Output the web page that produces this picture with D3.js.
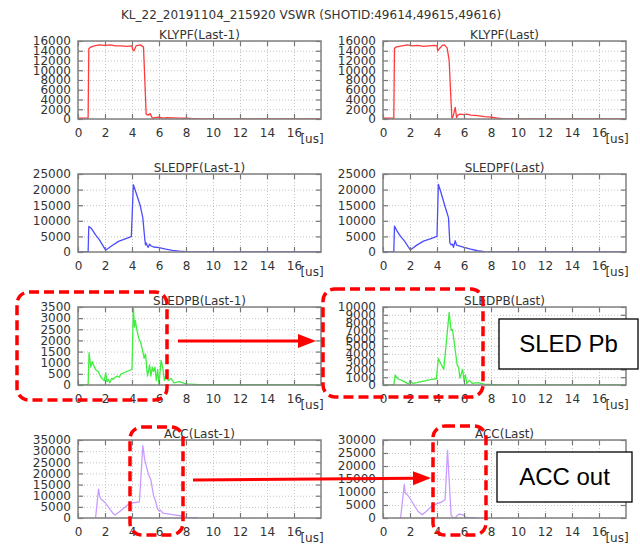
<!DOCTYPE html>
<html>
<head>
<meta charset="utf-8">
<script src="https://cdn.jsdelivr.net/npm/d3@7"></script>
<style>
  body { margin: 0; background: #fff; }
  svg { display: block; font-family: "DejaVu Sans", sans-serif; }
</style>
</head>
<body>
<div class="vis"></div>
<script>
(function() {
  'use strict';

  var chartTitle = 'KL_22_20191104_215920 VSWR (SHOTID:49614,49615,49616)';
  var xTicks = [0, 2, 4, 6, 8, 10, 12, 14, 16];
  var xMax = 18;
  var xUnit = '[us]';

  // [time in us, value]
  var klypfPrev = [[0,150],[0.75,200],[0.8,14400],[0.9,14700],[1.2,15000],[1.6,15200],[2.0,15100],[2.4,15200],
    [2.8,15000],[3.2,15000],[3.6,14900],[4.0,15000],[4.05,14200],[4.15,14000],[4.3,15000],[4.6,15200],
    [4.85,14800],[4.95,8000],[5.05,1000],[5.2,800],[5.35,1100],[5.5,200],[5.7,300],[6.0,400],[6.3,200],
    [6.6,300],[7.0,250],[7.5,200],[8.0,150],[8.5,80],[9.0,20],[12,0],[18,0]];
  var klypfLast = [[0,150],[0.8,200],[0.85,14500],[1.0,14800],[1.4,15000],[1.8,15200],[2.2,15000],[2.6,15100],
    [3.0,14900],[3.4,15000],[3.8,15100],[4.0,15000],[4.05,14000],[4.2,14500],[4.4,15100],[4.55,15200],
    [4.75,14600],[4.9,12000],[5.0,6000],[5.1,200],[5.2,600],[5.35,2400],[5.45,300],[5.55,800],[5.7,1000],
    [6.0,900],[6.2,1000],[6.5,800],[7.0,700],[7.5,500],[8.0,400],[8.5,200],[8.8,50],[9,20],[18,0]];

  var sledpfPrev = [[0,0],[0.75,0],[0.8,8200],[1.0,7500],[1.3,5500],[1.6,3800],[2.0,900],[2.1,700],[2.5,2000],
    [3.0,3400],[3.5,4200],[3.95,4900],[4.1,21600],[4.3,19000],[4.6,15000],[4.8,11000],[4.95,4000],[5.0,2300],
    [5.05,2900],[5.15,1800],[5.2,1500],[5.3,2500],[5.4,2000],[5.6,1600],[6.0,1400],[6.5,900],[7.0,500],
    [7.5,250],[8.0,100],[8.8,50],[9,0],[18,0]];
  var sledpfLast = [[0,0],[0.8,0],[0.85,8300],[1.0,7000],[1.3,5000],[1.6,3500],[2.0,800],[2.1,900],[2.5,2200],
    [3.0,3500],[3.5,4200],[4.0,5000],[4.1,21700],[4.3,19000],[4.6,14500],[4.85,11000],[4.95,3000],[5.05,2300],
    [5.15,2500],[5.22,1500],[5.35,3600],[5.45,2200],[5.7,1900],[6.0,1500],[6.5,900],[7.0,400],[7.5,100],
    [8.0,50],[8.8,50],[9,0],[18,0]];

  var sledpbPrev = [[0,0],[0.75,0],[0.82,1450],[0.95,800],[1.05,1050],[1.15,900],[1.3,700],[1.5,600],[1.7,350],
    [1.85,250],[1.95,200],[2.05,550],[2.15,150],[2.25,250],[2.35,100],[2.5,300],[2.6,250],[2.75,350],[2.9,400],
    [3.05,350],[3.2,500],[3.4,550],[3.6,600],[3.8,650],[4.0,700],[4.1,3500],[4.18,2600],[4.25,2900],[4.35,2500],
    [4.5,2100],[4.65,1900],[4.8,1500],[4.9,1200],[5.0,1400],[5.1,700],[5.15,400],[5.3,900],[5.4,400],[5.5,800],
    [5.6,600],[5.7,800],[5.8,200],[5.9,700],[6.0,0],[6.15,1100],[6.3,700],[6.4,200],[6.5,400],[6.7,200],
    [6.9,300],[7.1,100],[7.5,150],[8.0,50],[9.0,20],[18,0]];
  var sledpbLast = [[0,0],[0.8,0],[0.9,1300],[1.0,1000],[1.1,800],[1.4,600],[1.7,300],[1.9,100],[2.0,600],
    [2.1,400],[2.2,200],[2.5,300],[3.0,500],[3.5,700],[3.95,800],[4.1,3400],[4.2,3000],[4.3,2700],[4.5,2000],
    [4.9,9300],[5.05,7000],[5.15,7100],[5.5,2500],[5.6,2300],[5.7,900],[5.9,2000],[6.0,500],[6.1,1300],
    [6.2,200],[6.4,600],[6.6,200],[7.0,300],[7.5,100],[8.5,0],[18,0]];

  var accPrev = [[1.3,0],[1.52,13000],[1.6,10000],[1.7,8500],[2.0,7000],[2.3,4500],[2.6,2000],[2.75,1300],
    [3.0,2500],[3.4,4500],[3.8,6500],[4.3,7000],[4.55,7200],[4.8,32500],[4.9,28000],[4.95,26000],[5.2,20000],
    [5.4,17000],[5.6,10000],[5.75,7500],[5.9,4000],[6.0,3200],[6.1,3500],[6.3,2200],[7.0,1500],[7.7,900],
    [8.0,300],[8.9,200]];
  var accLast = [[1.3,0],[1.58,13000],[1.65,9500],[1.8,9000],[2.0,7500],[2.3,5000],[2.6,2500],[2.9,1300],
    [3.2,2500],[3.6,4500],[4.0,5500],[4.3,6000],[4.6,7000],[4.78,26000],[4.95,10000],[5.05,1000],[5.2,0],
    [5.4,300],[5.6,1500],[5.8,1400],[6.0,1000],[6.1,300],[6.3,200],[6.6,150],[7.0,0]];

  var panels = [
    {row: 0, col: 0, title: 'KLYPF(Last-1)', data: klypfPrev, yMax: 16000, yStep: 2000, color: '#ff3a3a'},
    {row: 0, col: 1, title: 'KLYPF(Last)', data: klypfLast, yMax: 16000, yStep: 2000, color: '#ff3a3a'},
    {row: 1, col: 0, title: 'SLEDPF(Last-1)', data: sledpfPrev, yMax: 25000, yStep: 5000, color: '#4c4cff'},
    {row: 1, col: 1, title: 'SLEDPF(Last)', data: sledpfLast, yMax: 25000, yStep: 5000, color: '#4c4cff'},
    {row: 2, col: 0, title: 'SLEDPB(Last-1)', data: sledpbPrev, yMax: 3500, yStep: 500, color: '#3fee3f'},
    {row: 2, col: 1, title: 'SLEDPB(Last)', data: sledpbLast, yMax: 10000, yStep: 1000, color: '#3fee3f'},
    {row: 3, col: 0, title: 'ACC(Last-1)', data: accPrev, yMax: 35000, yStep: 5000, color: '#c89cff'},
    {row: 3, col: 1, title: 'ACC(Last)', data: accLast, yMax: 30000, yStep: 5000, color: '#c89cff'}
  ];

  var rowTop = [41, 174, 307, 440],
    colLeft = [78, 383],
    plotW = 243,
    plotH = 78;

  var svg = d3.select('.vis').append('svg')
    .attr('width', 640)
    .attr('height', 545);

  svg.append('rect').attr('width', 640).attr('height', 545).attr('fill', '#fff');

  svg.append('text')
    .attr('x', 311)
    .attr('y', 19)
    .attr('text-anchor', 'middle')
    .attr('font-size', 12)
    .attr('fill', '#333')
    .text(chartTitle);

  panels.forEach(function(p, i) {
    var left = colLeft[p.col],
      top = rowTop[p.row];

    var x = d3.scaleLinear().domain([0, xMax]).range([0, plotW]);
    var y = d3.scaleLinear().domain([0, p.yMax]).range([plotH, 0]);
    var yTicks = d3.range(0, p.yMax + 1, p.yStep);

    var g = svg.append('g')
      .attr('transform', 'translate(' + left + ',' + top + ')');

    g.append('clipPath')
        .attr('id', 'clip' + i)
      .append('rect')
        .attr('width', plotW)
        .attr('height', plotH);

    // grid
    g.append('g')
        .attr('class', 'grid')
        .attr('transform', 'translate(0,' + plotH + ')')
        .call(d3.axisBottom(x).tickValues(xTicks).tickSize(-plotH).tickFormat(''));
    g.append('g')
        .attr('class', 'grid')
        .call(d3.axisLeft(y).tickValues(yTicks).tickSize(-plotW).tickFormat(''));
    g.selectAll('.grid .domain').remove();
    g.selectAll('.grid line')
      .attr('stroke', '#c4c4c4')
      .attr('stroke-width', 1)
      .attr('stroke-dasharray', '1,2');

    // trace
    g.append('path')
      .datum(p.data)
      .attr('clip-path', 'url(#clip' + i + ')')
      .attr('fill', 'none')
      .attr('stroke', p.color)
      .attr('stroke-width', 1.3)
      .attr('stroke-linejoin', 'round')
      .attr('d', d3.line()
        .x(function(d) { return x(d[0]); })
        .y(function(d) { return y(d[1]); }));

    // axes, ticks pointing inwards on all four sides
    var axes = [
      g.append('g').attr('transform', 'translate(0,' + plotH + ')')
        .call(d3.axisBottom(x).tickValues(xTicks).tickSizeInner(-5).tickSizeOuter(0).tickPadding(9)),
      g.append('g')
        .call(d3.axisTop(x).tickValues(xTicks).tickSizeInner(-5).tickSizeOuter(0).tickFormat('')),
      g.append('g')
        .call(d3.axisLeft(y).tickValues(yTicks).tickSizeInner(-5).tickSizeOuter(0).tickPadding(7)
          .tickFormat(d3.format('d'))),
      g.append('g').attr('transform', 'translate(' + plotW + ',0)')
        .call(d3.axisRight(y).tickValues(yTicks).tickSizeInner(-5).tickSizeOuter(0).tickFormat(''))
    ];
    axes.forEach(function(a) {
      a.select('.domain').remove();
      a.selectAll('line').attr('stroke', '#777').attr('stroke-width', 1.2);
      a.selectAll('text')
        .attr('font-family', '"DejaVu Sans", sans-serif')
        .attr('font-size', 12)
        .attr('fill', '#333');
    });

    g.append('rect')
      .attr('width', plotW)
      .attr('height', plotH)
      .attr('fill', 'none')
      .attr('stroke', '#808080')
      .attr('stroke-width', 1.5);

    g.append('text')
      .attr('x', plotW / 2)
      .attr('y', -2)
      .attr('text-anchor', 'middle')
      .attr('font-size', 12)
      .attr('fill', '#333')
      .text(p.title);

    g.append('text')
      .attr('x', plotW - 9)
      .attr('y', plotH + 24)
      .attr('text-anchor', 'middle')
      .attr('font-size', 12)
      .attr('fill', '#333')
      .text(xUnit);
  });

  // annotations drawn over the charts
  var red = '#ff0000';
  var dashBoxes = [
    {x: 17, y: 292, w: 150, h: 108},
    {x: 323, y: 289, w: 160, h: 108},
    {x: 130, y: 427, w: 53, h: 108},
    {x: 433, y: 426, w: 53, h: 109}
  ];
  svg.selectAll('.dashbox')
    .data(dashBoxes)
    .enter()
    .append('rect')
      .attr('class', 'dashbox')
      .attr('x', function(d) { return d.x; })
      .attr('y', function(d) { return d.y; })
      .attr('width', function(d) { return d.w; })
      .attr('height', function(d) { return d.h; })
      .attr('rx', 12)
      .attr('fill', 'none')
      .attr('stroke', red)
      .attr('stroke-width', 3.5)
      .attr('stroke-dasharray', '10,5');

  var arrows = [
    {x1: 178, y1: 341, x2: 316, y2: 341},
    {x1: 193, y1: 480, x2: 431, y2: 478}
  ];
  arrows.forEach(function(a) {
    var ang = Math.atan2(a.y2 - a.y1, a.x2 - a.x1),
      len = 18, half = 7,
      bx = a.x2 - len * Math.cos(ang),
      by = a.y2 - len * Math.sin(ang);
    svg.append('line')
      .attr('x1', a.x1).attr('y1', a.y1)
      .attr('x2', bx).attr('y2', by)
      .attr('stroke', red)
      .attr('stroke-width', 3);
    svg.append('path')
      .attr('fill', red)
      .attr('d', 'M' + a.x2 + ',' + a.y2 +
        'L' + (bx - half * Math.sin(ang)) + ',' + (by + half * Math.cos(ang)) +
        'L' + (bx + half * Math.sin(ang)) + ',' + (by - half * Math.cos(ang)) + 'Z');
  });

  var labels = [
    {x: 499, y: 319, w: 139, h: 50, text: 'SLED Pb'},
    {x: 497, y: 452, w: 135, h: 50, text: 'ACC out'}
  ];
  labels.forEach(function(l) {
    svg.append('rect')
      .attr('x', l.x).attr('y', l.y)
      .attr('width', l.w).attr('height', l.h)
      .attr('fill', '#fff')
      .attr('stroke', '#000')
      .attr('stroke-width', 1.3);
    svg.append('text')
      .attr('x', l.x + l.w / 2)
      .attr('y', l.y + l.h / 2)
      .attr('dy', '0.35em')
      .attr('text-anchor', 'middle')
      .attr('font-family', '"Liberation Sans", Arial, sans-serif')
      .attr('font-size', 24)
      .attr('fill', '#000')
      .text(l.text);
  });
}());
</script>
</body>
</html>
